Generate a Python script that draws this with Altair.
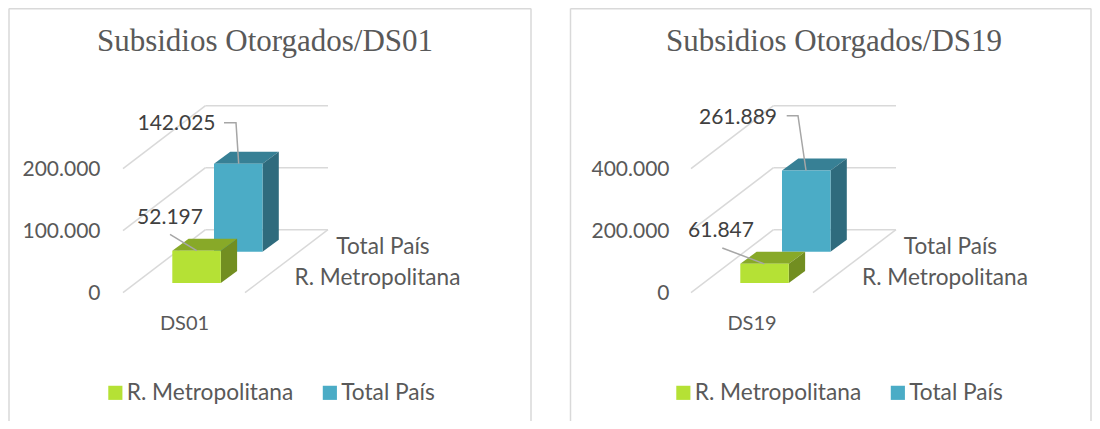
import altair as alt
import pandas as pd

series = ["R. Metropolitana", "Total País"]
titles = ["Subsidios Otorgados/DS01", "Subsidios Otorgados/DS19"]
groups = ["DS01", "DS19"]
values_ds01 = [52197, 142025]
values_ds19 = [61847, 261889]
ticks_ds01 = [0, 100000, 200000]
ticks_ds19 = [0, 200000, 400000]

FRONT = ["#B5E135", "#4BACC6"]
TOP = ["#88A928", "#378095"]
SIDE = ["#728E21", "#2F6B7D"]
GRID = "#D9D9D9"
TEXT = "#595959"
LABEL = "#404040"
LEADER = "#A6A6A6"
SANS = "Lato"
SERIF = "Liberation Serif"

Y0 = 292.7
PX_PER_TICK = 62.0
W = 1084
H = 413
BASE = [283.0, 251.7]
X = lambda sx: sx - 8


def fmt(v):
    return f"{v:,}".replace(",", ".")


def panel(left, right, dx, title, group, values, ticks, layout):
    k = ticks[1] / PX_PER_TICK
    val = lambda sy: (Y0 - sy) * k
    xs = alt.Scale(domain=[0, W], nice=False, zero=False)
    ys = alt.Scale(domain=[val(8 + H), val(8)], nice=False, zero=False)
    xe = lambda f: alt.X(f, type="quantitative", scale=xs, axis=None)
    ye = lambda f, **kw: alt.Y(f, type="quantitative", scale=ys, title=None, stack=None, **kw)
    axis = alt.Axis(
        orient="left", values=ticks, labelExpr="replace(format(datum.value, ','), ',', '.')",
        domain=False, ticks=False, grid=False, labelPadding=0, labelOffset=1,
        labelFont=SANS, labelFontSize=layout["tick_size"], labelColor=TEXT,
        offset=-X(layout["tick_right"]),
    )

    # frame
    frame = pd.DataFrame([
        dict(x=X(left), x2=X(left), y=val(8.5), y2=val(8 + H)),
        dict(x=X(left), x2=X(right), y=val(8.75), y2=val(8.75)),
        dict(x=X(right), x2=X(right), y=val(8.5), y2=val(8 + H)),
    ])
    layers = [alt.Chart(frame).mark_rule(color=GRID, strokeWidth=1.5).encode(
        x=xe("x"), x2="x2", y=ye("y", axis=axis), y2="y2")]

    # walls and floor
    lx, bx, rx = 123 + dx, 205.5 + dx, 328 + dx
    flx = 245 + dx
    rows = []
    for t in ticks:
        sf = Y0 - t / k
        rows.append(dict(x=X(lx), x2=X(bx), y=t, y2=val(sf - 63)))
        rows.append(dict(x=X(bx), x2=X(rx), y=val(sf - 63), y2=val(sf - 63)))
    rows.append(dict(x=X(flx), x2=X(rx), y=val(Y0), y2=val(Y0 - 63)))
    layers.append(alt.Chart(pd.DataFrame(rows)).mark_rule(color=GRID, strokeWidth=1.5).encode(
        x=xe("x"), x2="x2", y=ye("y"), y2="y2"))

    # bars: back row first
    DX, DY = 16.3, 12.0
    bar_x = [172.3 + dx, 214.0 + dx]
    bar_w = 48.5
    for i in (1, 0):
        x0 = X(bar_x[i]); x1 = x0 + bar_w
        b = val(BASE[i]); t = b + values[i]
        d = DY * k
        top = pd.DataFrame({"y": [t, t + d], "x": [x0, x0 + DX], "x2": [x1, x1 + DX]})
        layers.append(alt.Chart(top).mark_area(orient="horizontal", color=TOP[i]).encode(
            x=xe("x"), x2="x2", y=ye("y")))
        side = pd.DataFrame({"x": [x1, x1 + DX], "y": [t, t + d], "y2": [b, b + d]})
        layers.append(alt.Chart(side).mark_area(color=SIDE[i]).encode(
            x=xe("x"), y=ye("y"), y2="y2"))
        front = pd.DataFrame({"s": [series[i]], "x": [x0], "x2": [x1], "y": [t], "y2": [b]})
        layers.append(alt.Chart(front).mark_rect().encode(
            x=xe("x"), x2="x2", y=ye("y"), y2="y2",
            color=alt.Color("s:N", scale=alt.Scale(domain=series, range=FRONT), legend=alt.Legend(
                orient="none", legendX=X(layout["legend_x"]), legendY=layout["legend_y"] - 8,
                direction="horizontal", title=None, symbolType="square",
                symbolSize=200, symbolStrokeWidth=0, labelFont=SANS, labelLimit=400,
                labelFontSize=layout["legend_size"], labelColor=TEXT,
                columnPadding=layout["legend_gap"], labelOffset=0, values=series)),
        ))

    # leader lines
    for i, pts in enumerate(layout["leaders"]):
        b = val(BASE[i]); t = b + values[i]
        xs_ = [X(p[0]) for p in pts]
        ys_ = [val(p[1]) for p in pts[:-1]] + [t]
        df = pd.DataFrame({"x": xs_, "y": ys_, "o": range(len(xs_))})
        layers.append(alt.Chart(df).mark_line(color=LEADER, strokeWidth=1.5).encode(
            x=xe("x"), y=ye("y"), order="o:O"))

    # texts
    def text(s, sx, sy, size, color, font=SANS):
        df = pd.DataFrame({"t": [s]})
        return alt.Chart(df).mark_text(font=font, fontSize=size, color=color, align="center",
                                       baseline="middle").encode(
            x=alt.value(X(sx)), y=alt.value(sy - 8), text="t:N")

    layers.append(text(title, layout["title_x"], 41.5, layout["title_size"], TEXT, SERIF))
    layers.append(text(group, layout["group_x"], 324, layout["group_size"], TEXT))
    for s, (sx, sy) in zip(series, layout["depth"]):
        layers.append(text(s, sx, sy, layout["depth_size"], TEXT))
    for v, (sx, sy) in zip(values, layout["labels"]):
        layers.append(text(fmt(v), sx, sy, layout["label_size"], LABEL))

    return alt.layer(*layers)


common = dict(tick_size=21, label_size=21, group_size=20, depth_size=22.6, legend_size=22.7, title_size=31)
p1 = panel(9, 531, 0, titles[0], groups[0], values_ds01, ticks_ds01, dict(
    common, tick_right=100, title_x=265, group_x=184.5, legend_x=104, legend_y=381, legend_gap=24.5,
    depth=[(377.5, 278), (383, 247)], labels=[(170, 218), (176.5, 124)],
    leaders=[[(170, 234.3), (196.7, 251)], [(224, 122.7), (236, 122.7), (238.7, 163.3)]]))
p2 = panel(570.5, 1091, 568, titles[1], groups[1], values_ds19, ticks_ds19, dict(
    common, tick_right=669, title_x=834, group_x=752, legend_x=672, legend_y=381, legend_gap=24.5,
    depth=[(945, 278), (950.5, 247)], labels=[(721, 231), (738, 118)],
    leaders=[[(722.3, 248), (764.3, 264)], [(786.7, 115.7), (798, 115.7), (806, 170.7)]]))

chart = alt.layer(p1, p2).resolve_scale(y="independent", color="independent").properties(
    width=W, height=H, padding=0, background="white",
    autosize=alt.AutoSizeParams(type="none", contains="padding"),
).configure_view(stroke=None)

chart.save("out.html", embed_options={"renderer": "svg", "actions": False})
